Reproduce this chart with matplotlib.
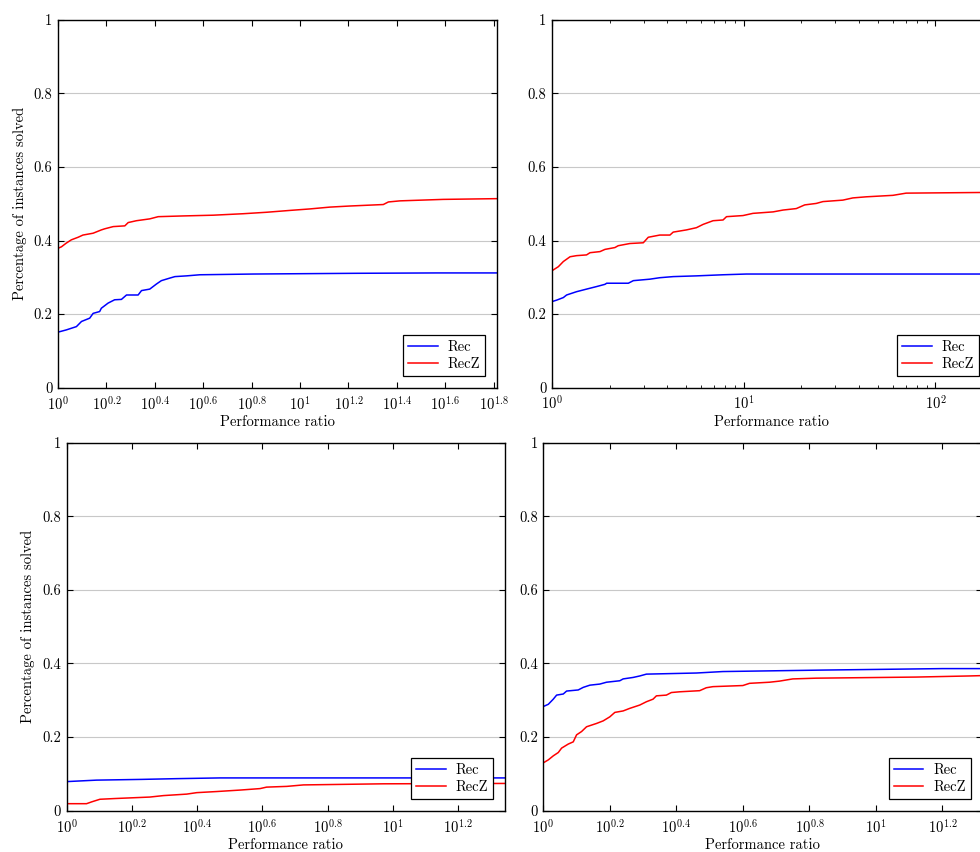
import numpy as np
import matplotlib
matplotlib.use("Agg")
import matplotlib.pyplot as plt
from matplotlib.ticker import FixedLocator, FixedFormatter, LogLocator, NullFormatter

# LaTeX / pgfplots look
plt.rcParams['font.family'] = 'cmr10'
plt.rcParams['mathtext.fontset'] = 'cm'
plt.rcParams['axes.unicode_minus'] = False
plt.rcParams['axes.formatter.use_mathtext'] = True
plt.rcParams['font.size'] = 10.5

# data: performance profiles, x as log10(ratio), y fraction solved
# top-left
tl_rec_x = [0, 0.034, 0.076, 0.097, 0.131, 0.145, 0.172, 0.179, 0.207, 0.234, 0.262, 0.283,
            0.331, 0.345, 0.379, 0.407, 0.427, 0.462, 0.483, 0.531, 0.586, 0.807, 1.234, 1.565, 1.814]
tl_rec_y = [0.151, 0.157, 0.166, 0.18, 0.189, 0.202, 0.207, 0.216, 0.23, 0.239, 0.24, 0.252,
            0.252, 0.264, 0.268, 0.282, 0.291, 0.298, 0.302, 0.304, 0.307, 0.309, 0.311, 0.312, 0.312]
tl_recz_x = [0, 0.014, 0.034, 0.055, 0.083, 0.103, 0.145, 0.179, 0.193, 0.228, 0.276, 0.29,
             0.324, 0.379, 0.414, 0.517, 0.641, 0.765, 0.862, 0.958, 1.04, 1.123, 1.206, 1.344,
             1.365, 1.413, 1.592, 1.814]
tl_recz_y = [0.379, 0.383, 0.393, 0.402, 0.409, 0.415, 0.42, 0.429, 0.432, 0.438, 0.44, 0.449,
             0.454, 0.459, 0.465, 0.467, 0.469, 0.473, 0.477, 0.482, 0.486, 0.491, 0.494, 0.498,
             0.505, 0.508, 0.512, 0.514]

# top-right
tr_rec_x = [0, 0.024, 0.059, 0.076, 0.128, 0.18, 0.233, 0.276, 0.285, 0.398, 0.424, 0.51,
            0.562, 0.632, 0.753, 0.892, 1.014, 2.29]
tr_rec_y = [0.234, 0.238, 0.245, 0.252, 0.261, 0.268, 0.275, 0.281, 0.284, 0.284, 0.291, 0.295,
            0.299, 0.302, 0.304, 0.307, 0.309, 0.309]
tr_recz_x = [0, 0.033, 0.059, 0.094, 0.128, 0.18, 0.198, 0.25, 0.276, 0.328, 0.345, 0.406,
             0.476, 0.502, 0.562, 0.615, 0.632, 0.701, 0.753, 0.788, 0.84, 0.892, 0.91, 0.996,
             1.048, 1.153, 1.205, 1.274, 1.318, 1.378, 1.413, 1.517, 1.569, 1.639, 1.778, 1.847, 2.29]
tr_recz_y = [0.318, 0.329, 0.343, 0.356, 0.359, 0.361, 0.367, 0.37, 0.376, 0.381, 0.386, 0.392,
             0.394, 0.409, 0.415, 0.415, 0.423, 0.429, 0.435, 0.444, 0.454, 0.456, 0.465, 0.468,
             0.474, 0.478, 0.483, 0.487, 0.497, 0.501, 0.506, 0.51, 0.516, 0.519, 0.523, 0.529, 0.531]

# bottom-left
bl_rec_x = [0, 0.092, 0.23, 0.337, 0.47, 1.344]
bl_rec_y = [0.079, 0.083, 0.085, 0.087, 0.089, 0.089]
bl_recz_x = [0, 0.061, 0.077, 0.102, 0.148, 0.255, 0.297, 0.368, 0.399, 0.46, 0.532, 0.593,
             0.613, 0.675, 0.726, 0.971, 1.344]
bl_recz_y = [0.019, 0.019, 0.024, 0.031, 0.033, 0.037, 0.041, 0.045, 0.049, 0.052, 0.056, 0.06,
             0.064, 0.066, 0.07, 0.073, 0.074]

# bottom-right
br_rec_x = [0, 0.015, 0.03, 0.04, 0.06, 0.07, 0.105, 0.12, 0.14, 0.17, 0.19, 0.23, 0.24, 0.27,
            0.29, 0.31, 0.46, 0.54, 0.84, 1.2, 1.32]
br_rec_y = [0.283, 0.289, 0.303, 0.314, 0.317, 0.325, 0.328, 0.335, 0.341, 0.344, 0.349, 0.353,
            0.358, 0.362, 0.366, 0.371, 0.374, 0.378, 0.382, 0.386, 0.386]
br_recz_x = [0, 0.015, 0.03, 0.045, 0.055, 0.075, 0.09, 0.1, 0.115, 0.13, 0.16, 0.18, 0.2, 0.215,
             0.24, 0.26, 0.29, 0.31, 0.33, 0.34, 0.37, 0.385, 0.41, 0.47, 0.49, 0.51, 0.6, 0.62,
             0.68, 0.71, 0.75, 0.82, 1.12, 1.28, 1.32]
br_recz_y = [0.13, 0.138, 0.149, 0.158, 0.17, 0.181, 0.187, 0.206, 0.215, 0.228, 0.237, 0.244,
             0.255, 0.267, 0.271, 0.278, 0.287, 0.296, 0.303, 0.312, 0.314, 0.321, 0.323, 0.326,
             0.334, 0.337, 0.34, 0.346, 0.349, 0.352, 0.358, 0.36, 0.363, 0.366, 0.367]

panels = [
    # left, bottom, width, height, data, log10 of xmax, y label?, tick style
    (0.0592, 0.545, 0.448, 0.4316, tl_rec_x, tl_rec_y, tl_recz_x, tl_recz_y, 1.814, True, 'frac'),
    (0.5633, 0.545, 0.448, 0.4316, tr_rec_x, tr_rec_y, tr_recz_x, tr_recz_y, 2.29, False, 'log'),
    (0.068, 0.0485, 0.4473, 0.432, bl_rec_x, bl_rec_y, bl_recz_x, bl_recz_y, 1.344, True, 'frac'),
    (0.5544, 0.0485, 0.448, 0.432, br_rec_x, br_rec_y, br_recz_x, br_recz_y, 1.32, False, 'frac'),
]

fig = plt.figure(figsize=(9.8, 8.52), dpi=100)

for left, bottom, w, h, rx, ry, zx, zy, xmax, ylab, style in panels:
    ax = fig.add_axes([left, bottom, w, h])
    ax.set_xscale('log')
    ax.plot(10 ** np.array(rx), ry, color='blue', lw=1.1, label='Rec')
    ax.plot(10 ** np.array(zx), zy, color='red', lw=1.1, label='RecZ')
    ax.set_xlim(1, 10 ** xmax)
    ax.set_ylim(0, 1)

    if style == 'frac':
        exps = np.arange(0, xmax + 1e-9, 0.2)
        labs = []
        for e in exps:
            if abs(e - round(e)) < 1e-6:
                labs.append(r'$10^{%d}$' % round(e))
            else:
                labs.append(r'$10^{%.1f}$' % e)
        ax.xaxis.set_major_locator(FixedLocator(10 ** exps))
        ax.xaxis.set_major_formatter(FixedFormatter(labs))
        ax.xaxis.set_minor_locator(FixedLocator([]))
    else:
        ax.xaxis.set_major_locator(LogLocator(base=10))
        ax.xaxis.set_minor_locator(LogLocator(base=10, subs=np.arange(2, 10)))
        ax.xaxis.set_minor_formatter(NullFormatter())

    ax.set_yticks([0, 0.2, 0.4, 0.6, 0.8, 1])
    ax.set_yticklabels(['0', '0.2', '0.4', '0.6', '0.8', '1'])
    ax.yaxis.grid(True, color='#c8c8c8', lw=0.8)
    ax.set_axisbelow(True)
    ax.tick_params(which='both', direction='in', top=True, right=True, labelsize=10.5)
    ax.tick_params(which='major', length=4)
    ax.tick_params(axis='x', which='major', pad=5)
    ax.tick_params(axis='y', which='major', pad=4)
    ax.tick_params(which='minor', length=2.5)
    for s in ax.spines.values():
        s.set_linewidth(1.0)

    ax.set_xlabel('Performance ratio', labelpad=2)
    if ylab:
        ax.set_ylabel('Percentage of instances solved', labelpad=5)

    leg = ax.legend(loc='lower right', fancybox=False, edgecolor='black', framealpha=1,
                    fontsize=10.5, handlelength=2.0, handletextpad=0.7, borderaxespad=0.8,
                    borderpad=0.35, labelspacing=0.2)
    leg.get_frame().set_linewidth(0.9)

fig.savefig('out.png', dpi=100)
